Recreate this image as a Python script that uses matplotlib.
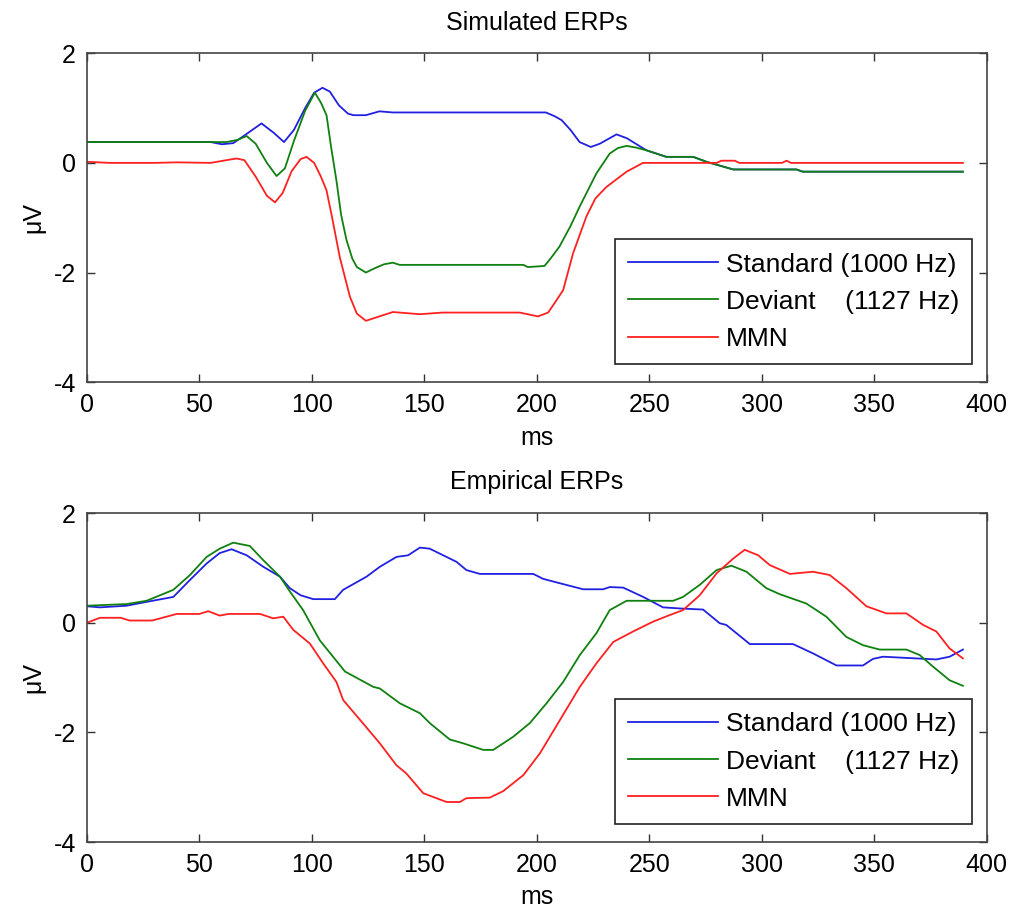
import numpy as np
import matplotlib
matplotlib.use("Agg")
import matplotlib.pyplot as plt

# simulated ERPs (top)
sim_std_t = [0, 55, 60, 65, 70, 77.6, 83, 87.6, 92, 97, 101, 104.7, 108, 112, 116,
             118.4, 124, 130, 136, 204, 208, 211, 215, 219, 224, 228, 235.4, 240,
             248.7, 257.6, 269.5, 275.4, 287.3, 315.4, 318.2, 389.4]
sim_std_v = [0.38, 0.38, 0.34, 0.36, 0.5, 0.72, 0.55, 0.38, 0.6, 1.0, 1.28, 1.37, 1.3,
             1.05, 0.9, 0.87, 0.87, 0.94, 0.92, 0.92, 0.85, 0.78, 0.6, 0.38, 0.29,
             0.35, 0.52, 0.45, 0.23, 0.11, 0.11, 0.02, -0.12, -0.12, -0.16, -0.16]

sim_dev_t = [0, 62, 67, 71, 75, 80, 84.3, 88, 92, 97, 101.3, 104, 106.5, 108.5, 110.9,
             113, 115.4, 118, 120, 124, 128, 132, 136, 139, 194, 196, 203.4, 206, 210,
             215, 219, 226.5, 232.4, 236, 239.9, 244, 248.7, 257.6, 269.5, 275.4,
             287.3, 315.4, 318.2, 389.4]
sim_dev_v = [0.38, 0.38, 0.42, 0.49, 0.35, 0.0, -0.24, -0.1, 0.4, 0.95, 1.28, 1.1, 0.87,
             0.3, -0.32, -0.95, -1.41, -1.75, -1.9, -2.0, -1.92, -1.85, -1.82, -1.86,
             -1.86, -1.9, -1.88, -1.75, -1.53, -1.15, -0.8, -0.19, 0.17, 0.27, 0.31,
             0.28, 0.23, 0.11, 0.11, 0.02, -0.12, -0.12, -0.16, -0.16]

sim_mmn_t = [0, 10, 30, 40, 55, 62, 66.5, 70, 75, 80, 83.6, 87, 91, 95, 97.6, 101, 104,
             106.5, 109, 112.4, 116.9, 120, 124, 130, 136, 148, 158, 192.4, 200.5, 205,
             208, 211.7, 216.1, 222, 226, 230.9, 239.9, 247.2, 280, 282, 288, 290, 309,
             311, 313, 389.4]
sim_mmn_v = [0.02, 0.0, 0.0, 0.01, 0.0, 0.05, 0.08, 0.05, -0.25, -0.6, -0.72, -0.55,
             -0.15, 0.07, 0.11, 0.0, -0.25, -0.5, -1.0, -1.72, -2.44, -2.75, -2.88, -2.8,
             -2.72, -2.76, -2.73, -2.73, -2.8, -2.73, -2.55, -2.32, -1.65, -0.98, -0.65,
             -0.44, -0.16, 0.0, 0.0, 0.04, 0.04, 0.0, 0.0, 0.04, 0.0, 0.0]

# empirical ERPs (bottom)
emp_std_t = [0, 5.8, 17.6, 26.5, 38.4, 45.8, 53.2, 59, 64.3, 71, 78.4, 85.8, 90.2, 95,
             100.6, 110.2, 113.9, 124.3, 130.2, 137.6, 142.8, 148, 152.4, 164.3, 168.7,
             174.7, 198.4, 202.8, 210.2, 220.6, 229.5, 232.4, 238.4, 247.3, 256.1,
             263.6, 273.9, 281.3, 284.2, 294.7, 313.9, 322.8, 333.2, 345, 349.4, 353.9,
             377.6, 383.5, 389.4]
emp_std_v = [0.30, 0.28, 0.31, 0.38, 0.47, 0.78, 1.08, 1.27, 1.34, 1.23, 1.02, 0.84,
             0.63, 0.5, 0.43, 0.43, 0.6, 0.84, 1.02, 1.2, 1.23, 1.37, 1.35, 1.11, 0.96,
             0.89, 0.89, 0.80, 0.72, 0.61, 0.61, 0.65, 0.64, 0.47, 0.28, 0.26, 0.24,
             -0.01, -0.04, -0.39, -0.39, -0.56, -0.78, -0.78, -0.66, -0.62, -0.67,
             -0.62, -0.49]

emp_dev_t = [0, 17.6, 26.5, 38.4, 45.8, 53.2, 59, 65, 72.4, 78.4, 85.8, 90.2, 96.1,
             103.5, 114.7, 127.3, 130.2, 139.1, 148, 152.4, 161.3, 167.3, 176.2, 180.6,
             189.5, 196.9, 204.3, 211.7, 219.1, 226.5, 232.4, 239.9, 260.6, 265, 272.4,
             279.9, 286.5, 293.2, 302, 308, 319.8, 328.7, 337.6, 345, 352.4, 364.3,
             370.2, 376.1, 383.5, 389.4]
emp_dev_v = [0.31, 0.34, 0.40, 0.6, 0.87, 1.2, 1.35, 1.46, 1.40, 1.14, 0.84, 0.57, 0.23,
             -0.32, -0.89, -1.17, -1.2, -1.47, -1.65, -1.83, -2.13, -2.2, -2.32, -2.32,
             -2.08, -1.83, -1.47, -1.08, -0.59, -0.19, 0.23, 0.4, 0.4, 0.47, 0.69, 0.96,
             1.04, 0.93, 0.63, 0.52, 0.35, 0.11, -0.26, -0.41, -0.49, -0.49, -0.59,
             -0.8, -1.05, -1.15]

emp_mmn_t = [0, 5.8, 15, 19, 29, 39.9, 50, 53.9, 59, 63, 76.9, 82.8, 87.3, 91.7, 99.1,
             105, 110.9, 113.9, 122.8, 130.2, 137.6, 142, 149.5, 159.9, 165.8, 168.7,
             179.1, 185.1, 194, 201.4, 210.2, 219.1, 226.5, 234, 242.8, 251.7, 259.1,
             265, 272.4, 279.9, 287.3, 292.4, 298.4, 303.6, 312.5, 322.8, 330.2, 337.6,
             346.5, 355.4, 364.3, 371.7, 377.6, 383.5, 389.4]
emp_mmn_v = [0.0, 0.09, 0.09, 0.04, 0.04, 0.16, 0.16, 0.21, 0.13, 0.16, 0.16, 0.08, 0.11,
             -0.13, -0.38, -0.74, -1.08, -1.41, -1.84, -2.2, -2.6, -2.75, -3.11, -3.27,
             -3.27, -3.2, -3.19, -3.07, -2.78, -2.38, -1.78, -1.17, -0.74, -0.35, -0.16,
             0.02, 0.14, 0.23, 0.5, 0.9, 1.17, 1.33, 1.23, 1.05, 0.89, 0.93, 0.87, 0.63,
             0.30, 0.17, 0.17, -0.04, -0.16, -0.47, -0.65]

labels = ["Standard (1000 Hz)", "Deviant    (1127 Hz)", "MMN"]
colors = ["#2020e0", "#108010", "#ff2020"]

plt.rcParams["font.family"] = ["Liberation Sans", "DejaVu Sans"]
plt.rcParams["font.size"] = 18
plt.rcParams["axes.unicode_minus"] = False

fig = plt.figure(figsize=(10.11, 9.10), dpi=100)
ax1 = fig.add_axes([0.086, 0.580, 0.890, 0.3615])
ax2 = fig.add_axes([0.086, 0.0747, 0.890, 0.3615])

panels = [
    (ax1, "Simulated ERPs", [(sim_std_t, sim_std_v), (sim_dev_t, sim_dev_v), (sim_mmn_t, sim_mmn_v)]),
    (ax2, "Empirical ERPs", [(emp_std_t, emp_std_v), (emp_dev_t, emp_dev_v), (emp_mmn_t, emp_mmn_v)]),
]

for ax, title, series in panels:
    for (t, v), lab, c in zip(series, labels, colors):
        ax.plot(t, v, color=c, lw=1.3, label=lab)
    ax.set_xlim(0, 400)
    ax.set_ylim(-4, 2)
    ax.set_xticks(np.arange(0, 401, 50))
    ax.set_yticks([-4, -2, 0, 2])
    ax.tick_params(direction="in", top=True, right=True, length=6, width=1,
                   color="#333333", pad=8, labelsize=18)
    for sp in ax.spines.values():
        sp.set_color("#444444")
        sp.set_linewidth(1.2)
    ax.set_title(title, fontsize=18, pad=17)
    ax.set_xlabel("ms", fontsize=18, labelpad=6)
    ax.set_ylabel("\u03bcV", fontsize=18, labelpad=6)
    leg = ax.legend(loc="lower right", bbox_to_anchor=(0.984, 0.055), borderaxespad=0,
                    fontsize=19, handlelength=3.4, handletextpad=0.3, labelspacing=0.5,
                    borderpad=0.5, fancybox=False, framealpha=1)
    leg.get_frame().set_edgecolor("#222222")
    leg.get_frame().set_linewidth(1.2)

fig.savefig("out.png", dpi=100)
